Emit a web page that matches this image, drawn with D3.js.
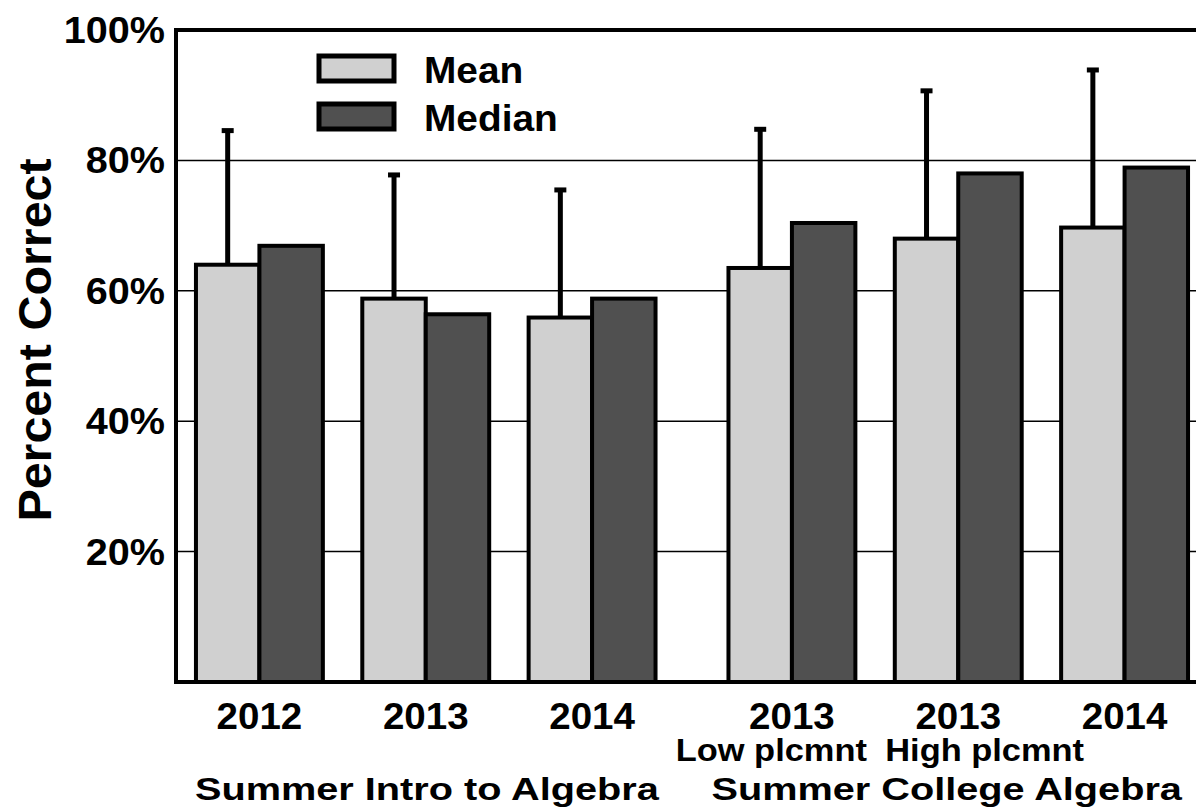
<!DOCTYPE html>
<html lang="en">
<head>
<meta charset="UTF-8">
<title>Percent Correct</title>
<style>
    body { margin: 0; background: #fff; }
    svg { display: block; font-family: "Liberation Sans", Arial, sans-serif; font-weight: bold; }
    .bar { stroke: #000; stroke-width: 4; }
    .grid line { stroke: #000; stroke-width: 1.5; }
</style>
</head>
<body>
<svg id="chart" width="1196" height="808"></svg>
<script src="https://d3js.org/d3.v7.min.js"></script>
<script>
// data
var courses = ["Summer Intro to Algebra", "Summer College Algebra"];
var groupCourse = [0, 0, 0, 1, 1, 1];
var groupYears = ["2012", "2013", "2014", "2013", "2013", "2014"];
var groupNotes = ["", "", "", "Low plcmnt", "High plcmnt", ""];
var series = ["Mean", "Median"];
var meanValues = [64.0, 58.8, 55.9, 63.5, 68.0, 69.7];
var medianValues = [66.9, 56.4, 58.8, 70.4, 78.0, 78.9];
var errorTops = [84.8, 78.0, 75.7, 85.0, 90.9, 94.1];
var yTicks = [20, 40, 60, 80, 100];

var colors = { Mean: "#d0d0d0", Median: "#505050" };

var svg = d3.select("#chart");
var plotLeft = 176, plotTop = 30, plotBottom = 682, plotRight = 1208;

var y = d3.scaleLinear().domain([0, 100]).range([plotBottom, plotTop]);

// two course clusters, three groups in each, two bars per group
var xCourse = d3.scaleBand().domain(courses).range([plotLeft, plotRight]).paddingInner(0.062);
var xGroup = d3.scaleBand().domain([0, 1, 2]).range([0, xCourse.bandwidth()])
    .paddingInner(0.237).paddingOuter(0.12);
var xSeries = d3.scaleBand().domain(series).range([0, xGroup.bandwidth()]);

var groups = groupYears.map(function(yr, i) {
    var c = groupCourse[i];
    var inCourse = groupCourse.slice(0, i).filter(function(v) { return v === c; }).length;
    return {
        year: yr, note: groupNotes[i],
        x: xCourse(courses[c]) + xGroup(inCourse),
        Mean: meanValues[i], Median: medianValues[i], err: errorTops[i]
    };
});

// the original lettering is a bit wider than Liberation Sans
function stretch(sel, k) {
    sel.each(function() {
        var w = this.getComputedTextLength();
        d3.select(this).attr("textLength", w * k).attr("lengthAdjust", "spacingAndGlyphs");
    });
}

// gridlines
svg.append("g").attr("class", "grid")
    .selectAll("line").data(yTicks.slice(0, 4)).enter().append("line")
    .attr("x1", plotLeft).attr("x2", plotRight)
    .attr("y1", function(d) { return y(d); }).attr("y2", function(d) { return y(d); });

// y tick labels
svg.append("g").selectAll("text").data(yTicks).enter().append("text")
    .attr("x", 165).attr("y", function(d) { return y(d); })
    .attr("dy", "0.36em").attr("text-anchor", "end")
    .style("font-size", "36px")
    .text(function(d) { return d + "%"; })
    .call(stretch, 1.1);

svg.append("text")
    .attr("transform", "translate(51,340) rotate(-90)")
    .attr("text-anchor", "middle")
    .style("font-size", "47px")
    .text("Percent Correct")
    .call(stretch, 1.03);

// error bars (upper only, on the mean bar)
var eb = svg.append("g").selectAll("g").data(groups).enter().append("g");
eb.append("line")
    .attr("x1", function(d) { return d.x + xSeries("Mean") + xSeries.bandwidth() / 2; })
    .attr("x2", function(d) { return d.x + xSeries("Mean") + xSeries.bandwidth() / 2; })
    .attr("y1", function(d) { return y(d.Mean); })
    .attr("y2", function(d) { return y(d.err); })
    .attr("stroke", "#000").attr("stroke-width", 5);
eb.append("rect")
    .attr("x", function(d) { return d.x + xSeries("Mean") + xSeries.bandwidth() / 2 - 6; })
    .attr("y", function(d) { return y(d.err) - 1; })
    .attr("width", 12).attr("height", 5).attr("fill", "#000");

// bars
var g = svg.append("g").selectAll("g").data(groups).enter().append("g")
    .attr("transform", function(d) { return "translate(" + d.x + ",0)"; });
g.selectAll("rect").data(function(d) {
    return series.map(function(s) { return { key: s, value: d[s] }; });
}).enter().append("rect")
    .attr("class", "bar")
    .attr("x", function(d) { return xSeries(d.key); })
    .attr("y", function(d) { return y(d.value); })
    .attr("width", xSeries.bandwidth())
    .attr("height", function(d) { return y(0) - y(d.value); })
    .attr("fill", function(d) { return colors[d.key]; });

// frame: left axis, top and bottom lines
svg.append("line").attr("x1", plotLeft).attr("x2", plotLeft).attr("y1", plotTop - 2).attr("y2", plotBottom + 2)
    .attr("stroke", "#000").attr("stroke-width", 4);
svg.append("line").attr("x1", plotLeft - 2).attr("x2", plotRight).attr("y1", plotTop).attr("y2", plotTop)
    .attr("stroke", "#000").attr("stroke-width", 4);
svg.append("line").attr("x1", plotLeft - 2).attr("x2", plotRight).attr("y1", plotBottom).attr("y2", plotBottom)
    .attr("stroke", "#000").attr("stroke-width", 4);

// x labels
var gc = function(d) { return d.x + xGroup.bandwidth() / 2; };
svg.append("g").selectAll("text").data(groups).enter().append("text")
    .attr("x", gc).attr("y", 729).attr("text-anchor", "middle")
    .style("font-size", "36px")
    .text(function(d) { return d.year; })
    .call(stretch, 1.07);

svg.append("text").attr("x", gc(groups[3]) + 75).attr("y", 761)
    .attr("text-anchor", "end").style("font-size", "31px").text(groups[3].note)
    .call(stretch, 1.11);
svg.append("text").attr("x", gc(groups[4]) - 73).attr("y", 761)
    .attr("text-anchor", "start").style("font-size", "31px").text(groups[4].note)
    .call(stretch, 1.11);

svg.append("text").attr("x", xCourse(courses[0]) + 19).attr("y", 800)
    .style("font-size", "32px").text(courses[0])
    .call(stretch, 1.24);
svg.append("text").attr("x", xCourse(courses[1]) + 3).attr("y", 800)
    .style("font-size", "32px").text(courses[1])
    .call(stretch, 1.24);

// legend
var legend = svg.append("g").selectAll("g").data(series).enter().append("g")
    .attr("transform", function(d, i) { return "translate(319," + (56 + i * 48) + ")"; });
legend.append("rect")
    .attr("width", 75).attr("height", 25)
    .attr("fill", function(d) { return colors[d]; })
    .attr("stroke", "#000").attr("stroke-width", 5);
legend.append("text")
    .attr("x", 105).attr("y", 27)
    .style("font-size", "37px")
    .text(function(d) { return d; })
    .call(stretch, 1.05);
</script>
</body>
</html>
